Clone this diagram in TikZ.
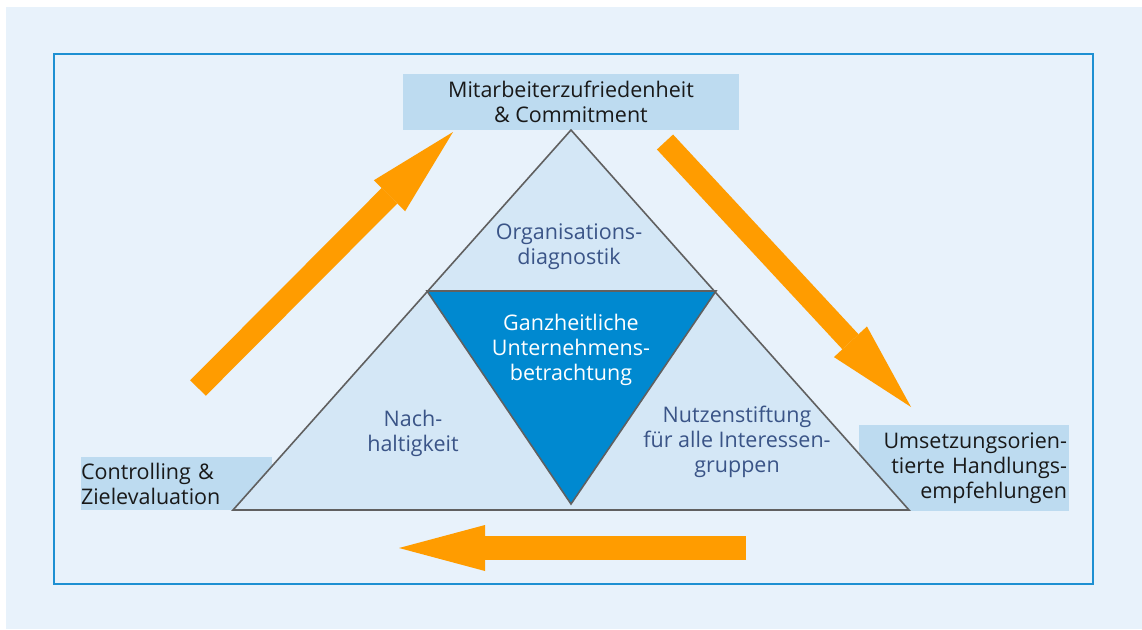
\documentclass[tikz,border=0pt]{standalone}
\usepackage{fontspec}
\setmainfont{Open Sans}
\usetikzlibrary{arrows.meta}
\definecolor{bgblue}{HTML}{E8F2FB}
\definecolor{boxblue}{HTML}{BDDBF0}
\definecolor{triblue}{HTML}{D4E7F6}
\definecolor{coreblue}{HTML}{0089D0}
\definecolor{framblue}{HTML}{1E90D2}
\definecolor{arrorange}{HTML}{FF9C00}
\definecolor{tritext}{HTML}{3A5487}
\definecolor{edgegray}{HTML}{606060}
\tikzset{
  lbl/.style={fill=boxblue, inner ysep=0pt, font=\fontsize{21.5}{25}\selectfont, text=black!90},
  tritxt/.style={align=center, inner sep=0pt, font=\fontsize{21.5}{25}\selectfont, text=tritext},
  fatarrow/.style={draw=arrorange, line width=#1},
  tri/.style={fill=triblue, draw=edgegray, line width=1.6pt, line join=miter},
}
\begin{document}
\begin{tikzpicture}[x=1pt,y=-1pt]
\useasboundingbox (0,0) rectangle (1142,629);
\fill[white] (0,0) rectangle (1142,629);
\fill[bgblue] (6,7) rectangle (1142,629);
\draw[framblue, line width=2pt] (54,54) rectangle (1093,584);

% labels
\node[lbl, minimum width=336pt, minimum height=56pt, align=center] (mit) at (571,102) {Mitarbeiterzufriedenheit\\\& Commitment};
\node[lbl, text width=206pt, inner xsep=2pt, minimum height=86pt, align=right] (ums) at (964,468) {Umsetzungsorien-\\tierte Handlungs-\\empfehlungen};
\node[lbl, text width=191pt, inner xsep=0pt, minimum height=53pt, align=left] (con) at (176.5,483.5) {Controlling \&\\Zielevaluation};

% triangle
\coordinate (A) at (571,130);
\coordinate (B) at (233,510);
\coordinate (C) at (909,510);
\coordinate (D) at (427,291);
\coordinate (E) at (716,291);
\coordinate (F) at (571,504);
\draw[tri] (A) -- (B) -- (C) -- cycle;
\draw[tri, fill=coreblue] (D) -- (E) -- (F) -- cycle;

\node[tritxt] (org) at (569,247) {Organisations-\\diagnostik};
\node[tritxt, text=white] (ganz) at (571,350) {Ganzheitliche\\Unternehmens-\\betrachtung};
\node[tritxt] (nach) at (413,433) {Nach-\\haltigkeit};
\node[tritxt] (nutz) at (737,442) {Nutzenstiftung\\für alle Interessen-\\gruppen};

% arrows
\coordinate (a1s) at (198,388);
\coordinate (a1e) at (453,132);
\coordinate (a2s) at (665,142);
\coordinate (a2e) at (911,407);
\coordinate (a3s) at (746,548);
\coordinate (a3e) at (399,548);
\draw[fatarrow=22pt, -{Triangle[length=90pt,width=44pt,line width=0pt]}] (a1s) -- (a1e);
\draw[fatarrow=22pt, -{Triangle[length=89pt,width=45pt,line width=0pt]}] (a2s) -- (a2e);
\draw[fatarrow=24pt, -{Triangle[length=86pt,width=46pt,line width=0pt]}] (a3s) -- (a3e);
\end{tikzpicture}
\end{document}
